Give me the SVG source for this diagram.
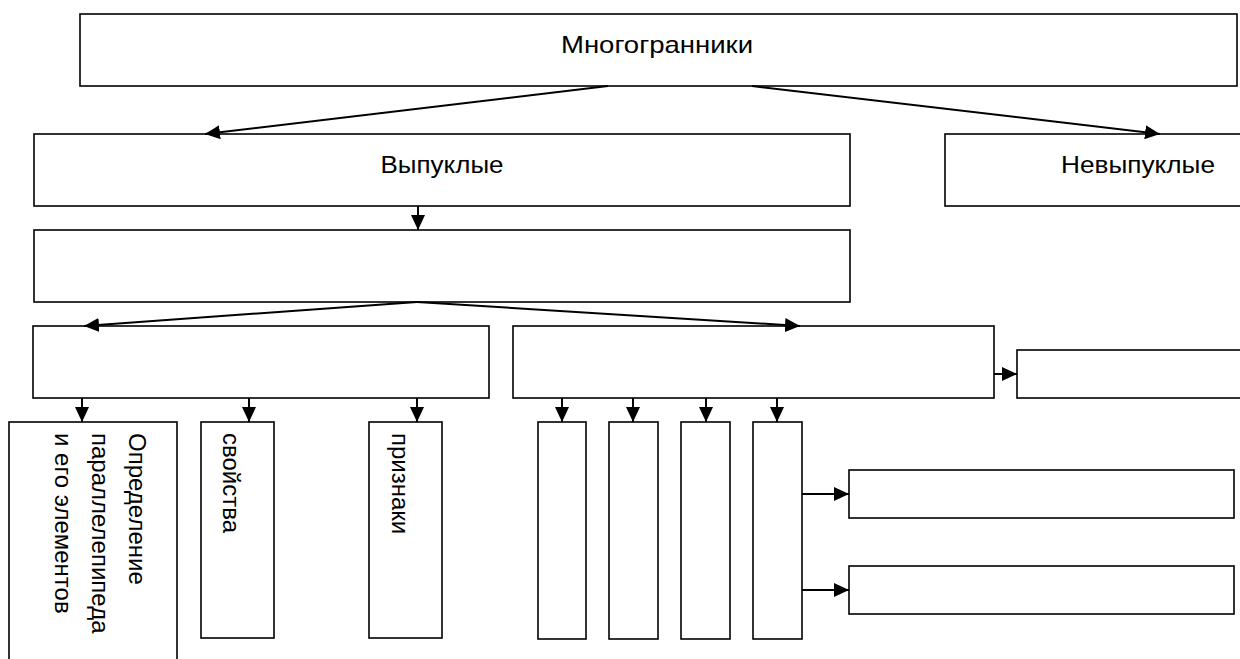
<svg xmlns="http://www.w3.org/2000/svg" width="1240" height="659" viewBox="0 0 1240 659">
<style>
.box{fill:#fff;stroke:#000;stroke-width:1.6}
.con line{stroke:#000;stroke-width:2;marker-end:url(#arr)}
.t{font-family:"Liberation Sans",Arial,sans-serif;font-size:24px;fill:#000}
.v{font-family:"Liberation Sans",Arial,sans-serif;font-size:24px;fill:#000}
</style>
<defs>
<marker id="arr" markerUnits="userSpaceOnUse" markerWidth="15" markerHeight="14" refX="15" refY="7" orient="auto" viewBox="0 0 15 14">
<path d="M0,0 L15,7 L0,14 z" fill="#000"/>
</marker>
</defs>
<rect width="1240" height="659" fill="#fff"/>
<g id="n-mnogogranniki"><rect class="box" x="80" y="14" width="1157" height="72"/><text class="t" x="657" y="53" text-anchor="middle" textLength="192" lengthAdjust="spacingAndGlyphs">Многогранники</text></g>
<g id="n-vypuklye"><rect class="box" x="34" y="134" width="816" height="72"/><text class="t" x="442" y="173" text-anchor="middle" textLength="123" lengthAdjust="spacingAndGlyphs">Выпуклые</text></g>
<g id="n-nevypuklye"><rect class="box" x="945" y="134" width="310" height="72"/><text class="t" x="1138" y="173" text-anchor="middle" textLength="154" lengthAdjust="spacingAndGlyphs">Невыпуклые</text></g>
<g id="n-level3"><rect class="box" x="34" y="230" width="816" height="72"/></g>
<g id="n-left4"><rect class="box" x="33" y="326" width="456" height="72"/></g>
<g id="n-right4"><rect class="box" x="513" y="326" width="481" height="72"/></g>
<g id="n-side"><rect class="box" x="1017" y="350" width="240" height="48"/></g>
<g id="n-def"><rect class="box" x="9" y="422" width="168" height="260"/>
<text class="v" transform="translate(129,433) rotate(90)">Определение</text>
<text class="v" transform="translate(92,433) rotate(90)">параллелепипеда</text>
<text class="v" transform="translate(55,433) rotate(90)">и его элементов</text></g>
<g id="n-svoistva"><rect class="box" x="201" y="422" width="73" height="216"/><text class="v" transform="translate(223,433) rotate(90)">свойства</text></g>
<g id="n-priznaki"><rect class="box" x="369" y="422" width="73" height="216"/><text class="v" transform="translate(392,433) rotate(90)">признаки</text></g>
<g id="n-s1"><rect class="box" x="538" y="422" width="48" height="217"/></g>
<g id="n-s2"><rect class="box" x="609" y="422" width="49" height="217"/></g>
<g id="n-s3"><rect class="box" x="681" y="422" width="49" height="217"/></g>
<g id="n-s4"><rect class="box" x="753" y="422" width="49" height="217"/></g>
<g id="n-r1"><rect class="box" x="849" y="470" width="385" height="48"/></g>
<g id="n-r2"><rect class="box" x="849" y="566" width="385" height="48"/></g>
<g class="con" id="connectors">
<line x1="608" y1="86" x2="205" y2="134"/>
<line x1="752" y1="86" x2="1160" y2="134"/>
<line x1="418" y1="206" x2="418" y2="230"/>
<line x1="417" y1="302" x2="84" y2="326"/>
<line x1="417" y1="302" x2="800" y2="326"/>
<line x1="82" y1="398" x2="82" y2="422"/>
<line x1="249" y1="398" x2="249" y2="422"/>
<line x1="417" y1="398" x2="417" y2="422"/>
<line x1="562" y1="398" x2="562" y2="422"/>
<line x1="633" y1="398" x2="633" y2="422"/>
<line x1="706" y1="398" x2="706" y2="422"/>
<line x1="777" y1="398" x2="777" y2="422"/>
<line x1="994" y1="374" x2="1017" y2="374"/>
<line x1="802" y1="494" x2="849" y2="494"/>
<line x1="802" y1="590" x2="849" y2="590"/>
</g>
</svg>
